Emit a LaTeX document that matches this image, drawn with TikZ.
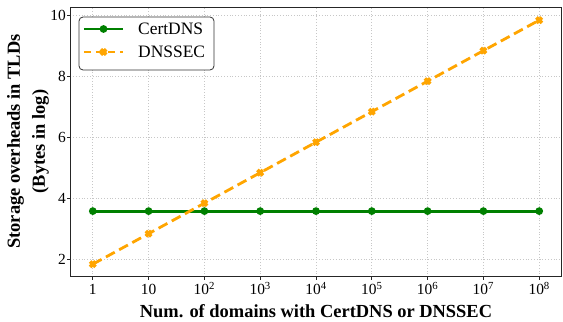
\documentclass[tikz,border=0pt]{standalone}
\usepackage{fontspec}
\setmainfont{Liberation Serif}
\usetikzlibrary{positioning}
\definecolor{certgreen}{HTML}{008000}
\definecolor{secorange}{HTML}{FFA500}
\newcommand{\tenpow}[1]{10\textsuperscript{#1}}
\tikzset{
  gridline/.style={black!22, dotted, line width=0.8bp},
  ticklabel/.style={inner sep=0pt, font=\fontsize{15.5}{18}\selectfont},
  axislabel/.style={inner sep=0pt, font=\bfseries\fontsize{18.5}{25}\selectfont},
  legendtext/.style={inner sep=0pt, anchor=west, font=\fontsize{17.5}{20}\selectfont},
  certline/.style={certgreen, line width=2.8bp},
  secline/.style={secorange, line width=2.8bp, dash pattern=on 10bp off 5bp},
  certdot/.pic={\fill[certgreen] (0,0) circle (3.9bp);},
  secmark/.pic={\draw[secorange, line width=3.6bp] (-2.7bp,-2.7bp) -- (2.7bp,2.7bp) (-2.7bp,2.7bp) -- (2.7bp,-2.7bp);},
}

\begin{document}
\begin{tikzpicture}[x=55.8bp, y=30.5bp]
    \useasboundingbox (-92.8bp,-1.7bp) rectangle ++(563bp,322bp);

    %Grid
    \foreach \i in {0,...,8}
        \draw[gridline] (\i,1.42) -- (\i,10.26);
    \foreach \v in {2,4,...,10}
        \draw[gridline] (-0.4,\v) -- (8.4,\v);

    %Data lines
    \draw[certline] (0,3.58) -- (8,3.58);
    \draw[secline] (0,1.84) -- (8,9.84);
    \foreach \i in {0,...,8}{
        \pic at (\i,3.58) {certdot};
        \pic at (\i,1.84+\i) {secmark};
    }

    %Axes box and ticks
    \draw[black!85, line width=1bp] (-0.4,1.42) rectangle (8.4,10.26);
    \foreach \i in {0,...,8}
        \draw[black!85, line width=1bp] (\i,1.42) -- ++(0,-3.5bp);
    \foreach \v in {2,4,...,10}
        \draw[black!85, line width=1bp] (-0.4,\v) -- ++(-3.5bp,0);

    %Tick labels
    \path (0,1.42) ++(0,-17.3bp) node[ticklabel, anchor=base] (xt0) {1};
    \path (1,1.42) ++(0,-17.3bp) node[ticklabel, anchor=base] (xt1) {10};
    \foreach \i in {2,...,8}
        \path (\i,1.42) ++(0,-17.3bp) node[ticklabel, anchor=base] (xt\i) {\tenpow{\i}};
    \foreach \v in {2,4,...,10}
        \path (-0.4,\v) ++(-4.5bp,0) node[ticklabel, anchor=east] (yt\v) {\v};

    %Axis labels
    \path (4,1.42) ++(0,-41bp) node[axislabel, anchor=base] (xlabel) {Num. of domains with CertDNS or DNSSEC};
    \node[axislabel, rotate=90, align=center] (ylabel) at (-1.161,5.862) {Storage overheads in TLDs\\(Bytes in log)};

    %Legend
    \draw[black!80, fill=white, line width=0.8bp, rounded corners=4bp] (-0.247,8.207) rectangle (2.172,9.944);
    \draw[certline] (-0.158,9.551) -- (0.541,9.551);
    \pic at (0.192,9.551) {certdot};
    \draw[secline, dash pattern=on 7bp off 5bp] (-0.158,8.797) -- (0.541,8.797);
    \pic at (0.192,8.797) {secmark};
    \node[legendtext] (legcert) at (0.81,9.551) {CertDNS};
    \node[legendtext] (legsec) at (0.81,8.797) {DNSSEC};
\end{tikzpicture}
\end{document}
